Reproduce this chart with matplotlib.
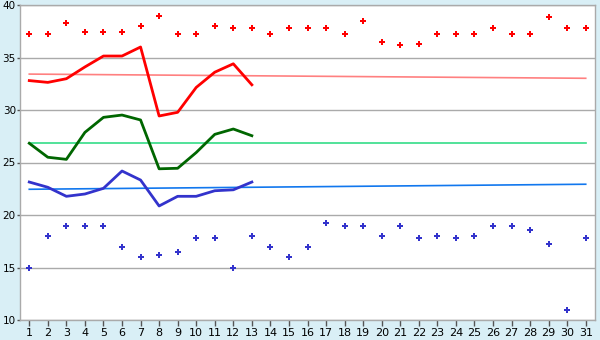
import matplotlib
matplotlib.use('Agg')
import matplotlib.pyplot as plt

days = list(range(1, 32))

# daily maximum / minimum markers
max_pts = [37.2, 37.2, 38.25, 37.4, 37.4, 37.4, 38.0, 38.95, 37.2, 37.2,
           37.97, 37.78, 37.78, 37.2, 37.8, 37.8, 37.8, 37.2, 38.45, 36.5,
           36.16, 36.25, 37.2, 37.2, 37.2, 37.78, 37.2, 37.2, 38.9, 37.78, 37.78]
min_pts = [15.0, 17.97, 18.92, 19.0, 18.92, 17.0, 15.97, 16.16, 16.45, 17.78,
           17.78, 15.0, 17.97, 17.0, 15.97, 17.0, 19.2, 18.92, 18.92, 17.97,
           18.92, 17.78, 17.97, 17.78, 17.97, 18.92, 19.0, 18.54, 17.2, 11.0, 17.78]

# observed lines (days 1-13)
line_days = list(range(1, 14))
red_line = [32.8, 32.63, 32.98, 34.1, 35.14, 35.14, 36.0, 29.43, 29.78, 32.15, 33.6, 34.4, 32.4]
green_line = [26.83, 25.5, 25.3, 27.87, 29.3, 29.52, 29.05, 24.4, 24.45, 25.95, 27.68, 28.19, 27.55]
blue_line = [23.14, 22.64, 21.78, 22.0, 22.54, 24.19, 23.33, 20.86, 21.78, 21.78, 22.31, 22.4, 23.14]

# normal lines (start / end of month)
norm_days = [1, 31]
norm_red = [33.42, 33.02]
norm_green = [26.83, 26.83]
norm_blue = [22.45, 22.93]

bg = '#d9eff6'
fig = plt.figure(figsize=(6, 3.4), dpi=100, facecolor=bg)
ax = fig.add_axes([20 / 600, 1 - 320 / 340, 575 / 600, 315 / 340])
ax.set_facecolor('white')

ax.plot(norm_days, norm_red, color='#ff8080', linewidth=1.2)
ax.plot(norm_days, norm_green, color='#33dd88', linewidth=1.2)
ax.plot(norm_days, norm_blue, color='#1177ee', linewidth=1.2)

ax.plot(line_days, red_line, color='#ff0000', linewidth=2)
ax.plot(line_days, green_line, color='#006600', linewidth=2)
ax.plot(line_days, blue_line, color='#3333cc', linewidth=2)

ax.plot(days, max_pts, linestyle='none', marker='P', markersize=4.5,
        color='#ff0000', markeredgewidth=0)
ax.plot(days, min_pts, linestyle='none', marker='P', markersize=4.5,
        color='#3333cc', markeredgewidth=0)

ax.set_xlim(0.5, 31.5)
ax.set_ylim(10, 40)
ax.set_xticks(days)
ax.set_yticks(range(10, 41, 5))
ax.grid(True, axis='y', color='#aaaaaa', linewidth=1)
ax.set_axisbelow(True)
for s in ax.spines.values():
    s.set_color('#aaaaaa')
    s.set_linewidth(1)
ax.tick_params(axis='x', colors='#555555', labelcolor='black', labelsize=8,
               length=4, width=1, pad=2)
ax.tick_params(axis='y', colors='#555555', labelcolor='black', labelsize=7.5,
               length=2, width=1, pad=1)

fig.savefig('out.png', dpi=100, facecolor=bg)
